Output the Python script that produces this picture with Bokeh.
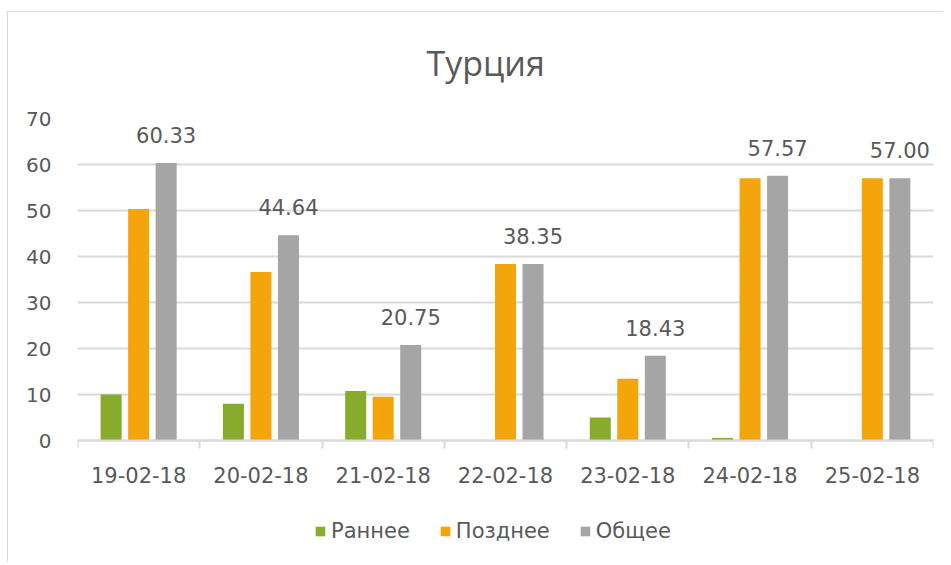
import numpy as np
from bokeh.plotting import figure
from bokeh.models import (ColumnDataSource, FixedTicker, Legend, LegendItem, Range1d)
from bokeh.core.properties import value
from bokeh.embed import file_html
from bokeh.resources import INLINE

dates = ["19-02-18", "20-02-18", "21-02-18", "22-02-18", "23-02-18", "24-02-18", "25-02-18"]
early = [10, 8, 10.75, 0, 5, 0.57, 0]
late = [50.33, 36.64, 9.5, 38.35, 13.43, 57.0, 57.0]
total = [60.33, 44.64, 20.75, 38.35, 18.43, 57.57, 57.00]
series_names = ["Раннее", "Позднее", "Общее"]
colors = ["#88AB2C", "#F5A50C", "#A5A5A5"]
y_ticks = [0, 10, 20, 30, 40, 50, 60, 70]

TXT = "#595959"
GRID = "#D9D9D9"
FONT = "DejaVu Sans"

centers = np.arange(len(dates)) + 0.5
offsets = [-0.225, 0.0, 0.225]
bar_w = 0.172

# layout (pixels)
FRAME_TOP = 118
PX_PER_UNIT = 322 / 70.0          # 0 .. 70 spans 322 px
FRAME_H = 442                      # frame extended below 0 to hold legend
Y_MAX = 70
Y_MIN = Y_MAX - FRAME_H / PX_PER_UNIT

p = figure(width=943, height=FRAME_TOP + FRAME_H + 2,
           frame_width=856, frame_height=FRAME_H,
           x_range=Range1d(0, len(dates)), y_range=Range1d(Y_MIN, Y_MAX),
           output_backend="svg", toolbar_location=None,
           min_border_left=77, min_border_top=FRAME_TOP, min_border_right=10,
           min_border_bottom=2)
p.styles = {
    "background": "linear-gradient(#D9D9D9, #D9D9D9) 7px 11px / 1px calc(100% - 11px) no-repeat, "
                  "linear-gradient(#D9D9D9, #D9D9D9) 7px 11px / calc(100% - 7px) 1px no-repeat",
}
p.outline_line_color = None
p.background_fill_color = "white"
p.background_fill_alpha = 0
p.border_fill_color = None

p.title.text = "Турция"
p.title.align = "left"
p.title.text_font = "Open Sans"
p.title.text_font_size = "34px"
p.title.text_font_style = "normal"
p.title.text_color = TXT
p.title.standoff = 66
p.title.offset = 349

renderers = []
for name, vals, col, off in zip(series_names, [early, late, total], colors, offsets):
    src = ColumnDataSource(dict(x=centers + off, top=vals))
    r = p.vbar(x="x", top="top", bottom=0, width=bar_w, source=src,
               fill_color=col, line_color=None)
    renderers.append(r)

lab_src = ColumnDataSource(dict(x=centers + offsets[2], y=total,
                                t=["%.2f" % v for v in total]))
p.text(x="x", y="y", text="t", source=lab_src, text_align="center",
       text_baseline="alphabetic", y_offset=-28, text_font=value(FONT),
       text_font_size="21px", text_color=TXT)

# y axis
p.yaxis.ticker = FixedTicker(ticks=y_ticks)
p.yaxis.axis_line_color = None
p.yaxis.major_tick_line_color = None
p.yaxis.minor_tick_line_color = None
p.yaxis.major_label_text_font = FONT
p.yaxis.major_label_text_font_size = "20px"
p.yaxis.major_label_text_color = TXT
p.yaxis.major_label_standoff = 20

# x axis drawn at y = 0
p.xaxis.fixed_location = 0
p.xaxis.ticker = FixedTicker(ticks=list(centers), minor_ticks=list(range(len(dates) + 1)))
p.xaxis.major_label_overrides = {float(c): d for c, d in zip(centers, dates)}
p.xaxis.axis_line_color = GRID
p.xaxis.axis_line_width = 2
p.xaxis.major_tick_line_color = None
p.xaxis.minor_tick_line_color = GRID
p.xaxis.minor_tick_line_width = 2
p.xaxis.minor_tick_in = 0
p.xaxis.minor_tick_out = 8
p.xaxis.major_label_text_font = FONT
p.xaxis.major_label_text_font_size = "21px"
p.xaxis.major_label_text_color = TXT
p.xaxis.major_label_standoff = 18

p.xgrid.grid_line_color = None
p.ygrid.ticker = FixedTicker(ticks=y_ticks)
p.ygrid.grid_line_color = GRID
p.ygrid.grid_line_width = 2

legend = Legend(items=[LegendItem(label=n, renderers=[r]) for n, r in zip(series_names, renderers)],
                orientation="horizontal", location=(237, 17),
                glyph_width=12, glyph_height=12, label_standoff=5, spacing=29,
                label_text_font=FONT, label_text_font_size="21px",
                label_text_color=TXT, border_line_color=None,
                background_fill_alpha=0, padding=4, margin=0)
p.add_layout(legend, "center")

open("out.html", "w").write(file_html(p, INLINE))
